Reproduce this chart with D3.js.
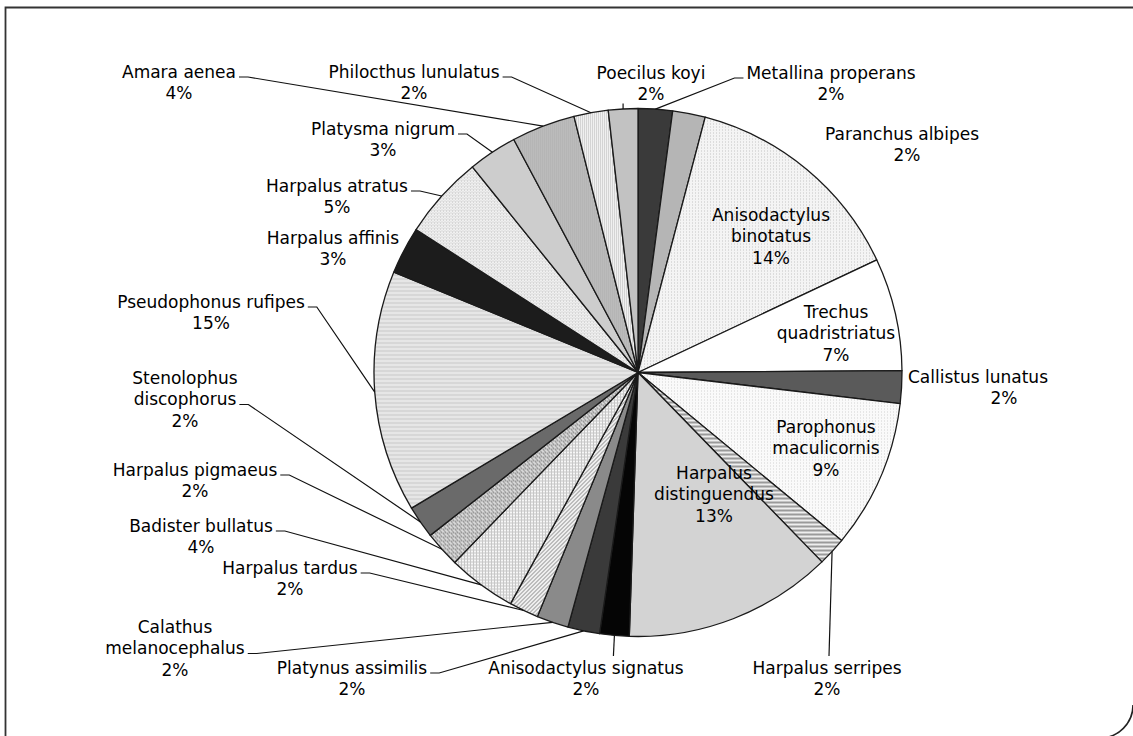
<!DOCTYPE html>
<html><head><meta charset="utf-8">
<script src="https://cdn.jsdelivr.net/npm/d3@7"></script>
<style>
body{margin:0;background:#fff}
svg{display:block}
text{font-family:"DejaVu Sans",sans-serif;font-size:17px;fill:#000}
</style></head><body>
<svg id="chart" width="1133" height="736"></svg>
<script>
// slices clockwise from 12 o'clock
const species = ["Metallina properans","Paranchus albipes","Anisodactylus binotatus","Trechus quadristriatus",
  "Callistus lunatus","Parophonus maculicornis","Harpalus serripes","Harpalus distinguendus",
  "Anisodactylus signatus","Platynus assimilis","Calathus melanocephalus","Harpalus tardus",
  "Badister bullatus","Harpalus pigmaeus","Stenolophus discophorus","Pseudophonus rufipes",
  "Harpalus affinis","Harpalus atratus","Platysma nigrum","Amara aenea","Philocthus lunulatus","Poecilus koyi"];
const share = [2.1,2.0,13.9,6.9,2.0,9.1,1.75,12.8,1.8,1.95,1.95,1.8,4.2,2.2,2.0,14.8,2.9,5.1,3.0,3.9,2.1,1.8];

// fill per slice (solid grey or pattern id)
const sliceFill = ["#3a3a3a","#b5b5b5","url(#dotsA)","#ffffff","#5a5a5a","url(#dotsB)","url(#stripeB)","#d3d3d3",
  "#050505","#3a3a3a","#8a8a8a","url(#diag)","url(#grid)","url(#hatch)","#6a6a6a","url(#stripeA)",
  "#1c1c1c","url(#dotsC)","#cdcdcd","url(#dark)","url(#check)","#c2c2c2"];

// label placement: x,y = centre of first line; mode: in / elbow / down / up / none
const labelPos = [
  {x:831,y:73,mode:"elbow",side:"left"},
  {x:902,y:134,mode:"none",pdx:5},
  {x:771,y:215,mode:"in",wrap:true},
  {x:836,y:312,mode:"in",wrap:true},
  {x:978,y:377,mode:"none",pdx:26},
  {x:826,y:427,mode:"in",wrap:true},
  {x:827,y:668,mode:"down",lx:829},
  {x:714,y:473,mode:"in",wrap:true},
  {x:586,y:668,mode:"down"},
  {x:352,y:668,mode:"elbow"},
  {x:175,y:627,mode:"elbow",wrap:true},
  {x:290,y:568,mode:"elbow"},
  {x:201,y:526,mode:"elbow"},
  {x:195,y:470,mode:"elbow"},
  {x:185,y:378,mode:"elbow",wrap:true},
  {x:211,y:302,mode:"elbow"},
  {x:333,y:238,mode:"none"},
  {x:337,y:186,mode:"elbow"},
  {x:383,y:129,mode:"elbow"},
  {x:179,y:72,mode:"elbow"},
  {x:414,y:72,mode:"elbow"},
  {x:651,y:73,mode:"up"}
];

const svg = d3.select("#chart");
const cx = 638, cy = 372.5, r = 264, lh = 21.5;

// patterns
const defs = svg.append("defs");
function pat(id, size, bg, draw) {
  const p = defs.append("pattern").attr("id", id).attr("patternUnits", "userSpaceOnUse")
    .attr("width", size).attr("height", size);
  p.append("rect").attr("width", size).attr("height", size).attr("fill", bg);
  draw(p);
}
pat("dotsA", 3, "#f4f4f4", p => p.append("rect").attr("width",1).attr("height",1).attr("fill","#c4c4c4"));
pat("dotsB", 3, "#fafafa", p => p.append("rect").attr("width",1).attr("height",1).attr("fill","#d2d2d2"));
pat("dotsC", 3, "#f0f0f0", p => { p.append("rect").attr("width",1).attr("height",1).attr("fill","#bdbdbd"); p.append("rect").attr("x",1).attr("y",2).attr("width",2).attr("height",1).attr("fill","#dadada"); });
pat("stripeA", 4, "#e6e6e6", p => p.append("rect").attr("y",2).attr("width",4).attr("height",1).attr("fill","#c8c8c8"));
pat("stripeB", 4, "#eeeeee", p => p.append("rect").attr("y",1).attr("width",4).attr("height",2).attr("fill","#9a9a9a"));
pat("grid", 3, "#f6f6f6", p => { p.append("rect").attr("width",3).attr("height",1).attr("fill","#c6c6c6"); p.append("rect").attr("width",1).attr("height",3).attr("fill","#c6c6c6"); });
pat("check", 2, "#f0f0f0", p => p.append("rect").attr("width",1).attr("height",1).attr("fill","#b8b8b8"));
pat("diag", 4, "#eeeeee", p => { [0,1,2,3].forEach(i => p.append("rect").attr("x",i).attr("y",3-i).attr("width",1).attr("height",1).attr("fill","#8a8a8a")); });
pat("hatch", 4, "#d6d6d6", p => { [0,1,2,3].forEach(i => p.append("rect").attr("x",i).attr("y",i).attr("width",1).attr("height",1).attr("fill","#8a8a8a")); p.append("rect").attr("width",4).attr("height",1).attr("fill","#a8a8a8"); });
pat("dark", 2, "#cfcfcf", p => { p.append("rect").attr("width",1).attr("height",1).attr("fill","#9a9a9a"); p.append("rect").attr("x",1).attr("y",1).attr("width",1).attr("height",1).attr("fill","#a6a6a6"); });

// frame (only top, left and a rounded bottom-right corner are in view)
const fr = d3.path();
fr.moveTo(5.5, 737); fr.lineTo(5.5, 7.5); fr.lineTo(1134, 7.5);
svg.append("path").attr("d", fr.toString()).attr("fill","none").attr("stroke","#333").attr("stroke-width",1.8);
const corner = d3.path();
corner.arc(1100, 705, 33, 0, Math.PI / 2);
svg.append("path").attr("d", corner.toString()).attr("fill","none").attr("stroke","#222").attr("stroke-width",1.6);

const data = species.map((name, i) => ({ name, value: share[i], i }));
const total = d3.sum(share);
const pie = d3.pie().value(d => d.value).sort(null);
const arcs = pie(data);
const arc = d3.arc().innerRadius(0).outerRadius(r);
const edge = d3.arc().innerRadius(r).outerRadius(r);

const g = svg.append("g").attr("transform", `translate(${cx},${cy})`);
g.selectAll("path.slice")
  .data(arcs)
  .join("path")
  .attr("class", "slice")
  .attr("d", arc)
  .attr("fill", d => sliceFill[d.data.i])
  .attr("stroke", "#1a1a1a")
  .attr("stroke-width", 1.3)
  .attr("stroke-linejoin", "round");

// labels + leader lines
const lab = svg.append("g");
const lead = svg.append("g").attr("fill","none").attr("stroke","#111").attr("stroke-width",1.2);

arcs.forEach(d => {
  const p = labelPos[d.data.i];
  const lines = p.wrap ? d.data.name.split(" ") : [d.data.name];
  const pct = Math.round(d.data.value / total * 100) + "%";
  const t = lab.append("g");
  let last;
  lines.forEach((s, k) => {
    last = t.append("text").attr("x", p.x).attr("y", p.y + k * lh).attr("dy", "0.35em")
      .attr("text-anchor", "middle").text(s);
  });
  const pctY = p.y + lines.length * lh;
  t.append("text").attr("x", p.x + (p.pdx || 0)).attr("y", pctY).attr("dy", "0.35em")
    .attr("text-anchor", "middle").text(pct);

  const [ex, ey] = edge.centroid(d);
  const px = cx + ex, py = cy + ey;
  if (p.mode === "elbow") {
    const w = last.node().getComputedTextLength();
    const ly = p.y + (lines.length - 1) * lh + 5;
    const lp = d3.path();
    if (p.side === "left") {
      lp.moveTo(p.x - w / 2 - 3, ly); lp.lineTo(p.x - w / 2 - 12, ly);
    } else {
      lp.moveTo(p.x + w / 2 + 3, ly); lp.lineTo(p.x + w / 2 + 12, ly);
    }
    lp.lineTo(px, py);
    lead.append("path").attr("d", lp.toString());
  } else if (p.mode === "down") {
    lead.append("line").attr("x1", px).attr("y1", py).attr("x2", p.lx || px - 1).attr("y2", p.y - 12);
  } else if (p.mode === "up") {
    lead.append("line").attr("x1", px).attr("y1", py).attr("x2", px).attr("y2", pctY + 9);
  }
});
</script>
</body></html>
